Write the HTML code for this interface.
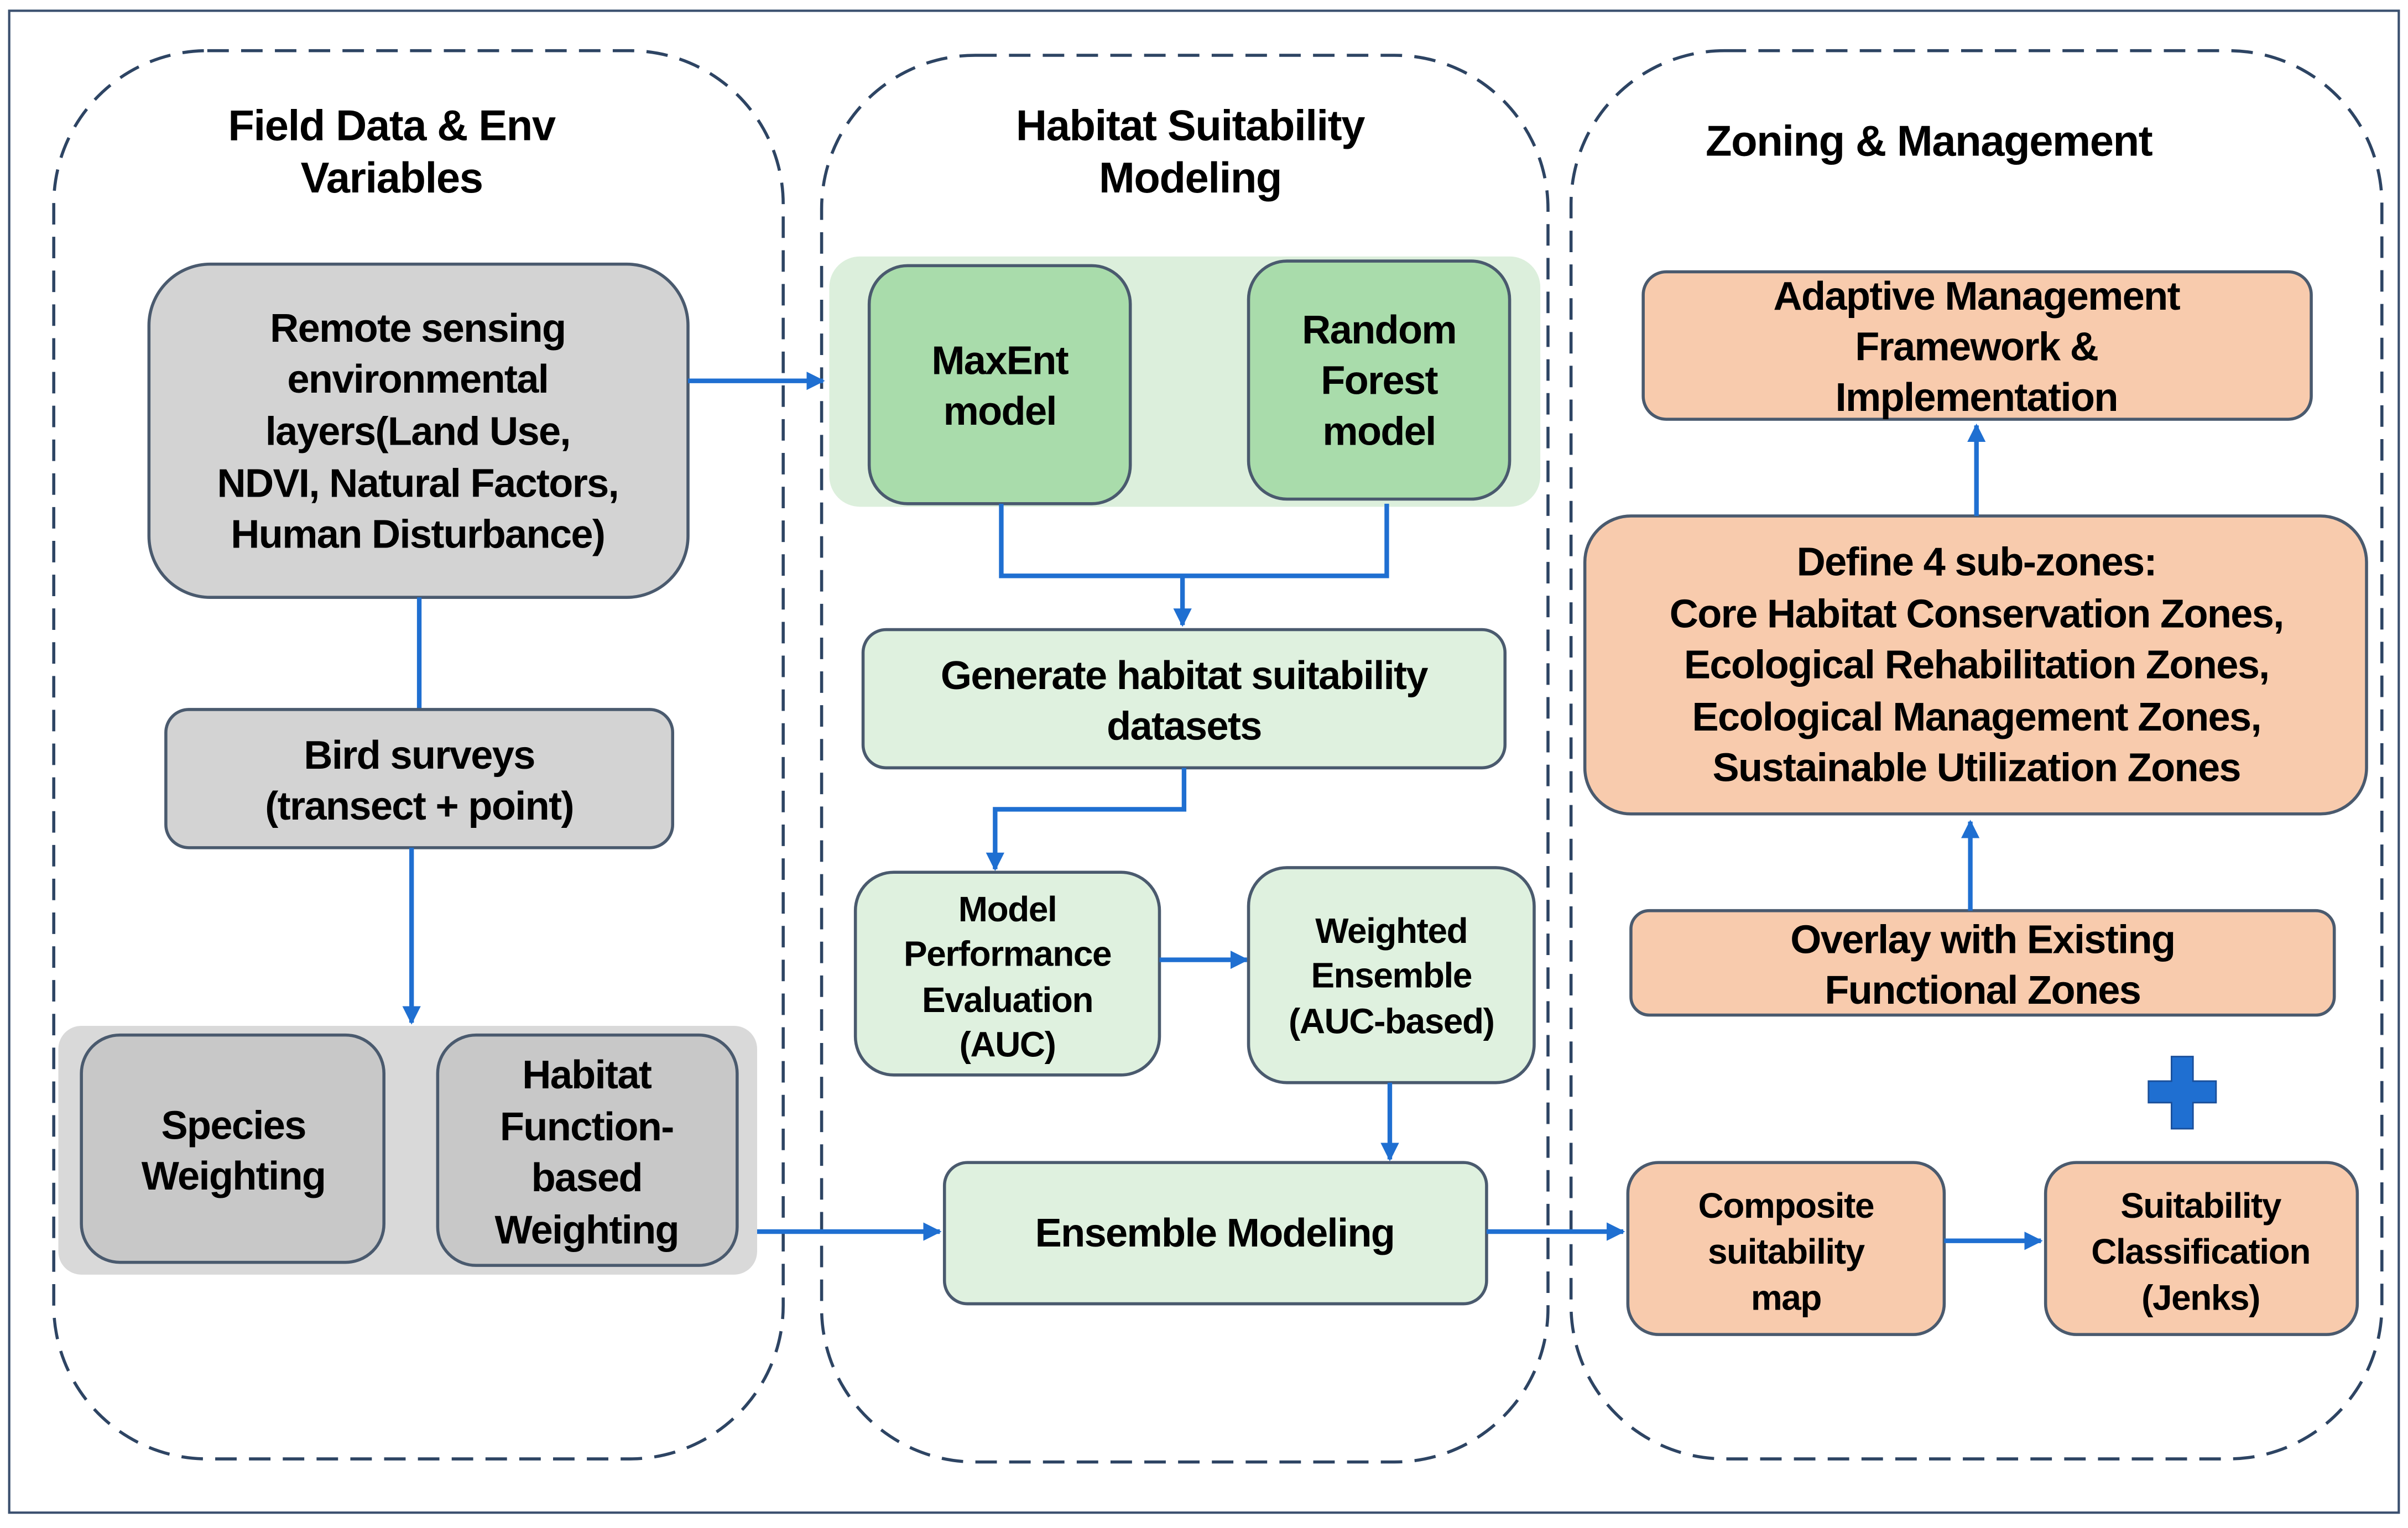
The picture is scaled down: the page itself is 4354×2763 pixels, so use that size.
<!DOCTYPE html>
<html><head><meta charset="utf-8"><style>
html,body{margin:0;padding:0;background:#fff;}
svg{display:block;}
text{font-family:"Liberation Sans",sans-serif;font-weight:bold;fill:#000;text-anchor:middle;dominant-baseline:central;}
.b{font-size:26px;letter-spacing:-0.6px;}
.s{font-size:23px;letter-spacing:-0.5px;}
.t{font-size:28px;letter-spacing:-0.5px;}
.box{stroke:#4a5a6e;stroke-width:2;}
.ln{stroke:#1f6fd1;stroke-width:3;fill:none;}
.dash{fill:none;stroke:#2d4463;stroke-width:2;stroke-dasharray:14 8;}
</style></head><body>
<svg width="4354" height="2763" viewBox="0 0 1568 995" preserveAspectRatio="none">
<defs><marker id="a" viewBox="0 0 10 10" refX="9" refY="5" markerWidth="4" markerHeight="4" orient="auto"><path d="M0,0L10,5L0,10z" fill="#1f6fd1"/></marker></defs>
<rect x="6" y="7" width="1556" height="978" fill="none" stroke="#3a4f6e" stroke-width="1.5"/>
<rect class="dash" x="35" y="33" width="475" height="917" rx="100"/>
<rect class="dash" x="535" y="36" width="473" height="916" rx="100"/>
<rect class="dash" x="1023" y="33" width="528" height="917" rx="100"/>
<text class="t" x="255" y="82">Field Data &amp; Env</text>
<text class="t" x="255" y="116">Variables</text>
<text class="t" x="775" y="82">Habitat Suitability</text>
<text class="t" x="775" y="116">Modeling</text>
<text class="t" x="1256" y="92">Zoning &amp; Management</text>

<!-- Left -->
<rect class="box" x="97" y="172" width="351" height="217" rx="40" fill="#d3d3d3"/>
<text class="b" x="272" y="214">Remote sensing</text>
<text class="b" x="272" y="247">environmental</text>
<text class="b" x="272" y="281">layers(Land Use,</text>
<text class="b" x="272" y="315">NDVI, Natural Factors,</text>
<text class="b" x="272" y="348">Human Disturbance)</text>
<line class="ln" x1="273" y1="389" x2="273" y2="462"/>
<rect class="box" x="108" y="462" width="330" height="90" rx="15" fill="#d3d3d3"/>
<text class="b" x="273" y="492">Bird surveys</text>
<text class="b" x="273" y="525">(transect + point)</text>
<line class="ln" x1="268" y1="552" x2="268" y2="666" marker-end="url(#a)"/>
<rect x="38" y="668" width="455" height="162" rx="15" fill="#d9d9d9"/>
<rect class="box" x="53" y="674" width="197" height="148" rx="25" fill="#c8c8c8"/>
<text class="b" x="152" y="733">Species</text>
<text class="b" x="152" y="766">Weighting</text>
<rect class="box" x="285" y="674" width="195" height="150" rx="25" fill="#c8c8c8"/>
<text class="b" x="382" y="700">Habitat</text>
<text class="b" x="382" y="734">Function-</text>
<text class="b" x="382" y="767">based</text>
<text class="b" x="382" y="801">Weighting</text>
<line class="ln" x1="493" y1="802" x2="612" y2="802" marker-end="url(#a)"/>
<line class="ln" x1="448" y1="248" x2="536" y2="248" marker-end="url(#a)"/>

<!-- Middle -->
<rect x="540" y="167" width="463" height="163" rx="20" fill="#dcefdc"/>
<rect class="box" x="566" y="173" width="170" height="155" rx="25" fill="#a9dcab"/>
<text class="b" x="651" y="235">MaxEnt</text>
<text class="b" x="651" y="268">model</text>
<rect class="box" x="813" y="170" width="170" height="155" rx="25" fill="#a9dcab"/>
<text class="b" x="898" y="215">Random</text>
<text class="b" x="898" y="248">Forest</text>
<text class="b" x="898" y="281">model</text>
<polyline class="ln" points="652,328 652,375 903,375 903,328"/>
<line class="ln" x1="770" y1="375" x2="770" y2="407" marker-end="url(#a)"/>
<rect class="box" x="562" y="410" width="418" height="90" rx="15" fill="#dff1df"/>
<text class="b" x="771" y="440">Generate habitat suitability</text>
<text class="b" x="771" y="473">datasets</text>
<polyline class="ln" points="771,500 771,527 648,527 648,566" marker-end="url(#a)"/>
<rect class="box" x="557" y="568" width="198" height="132" rx="25" fill="#dff1df"/>
<text class="s" x="656" y="592">Model</text>
<text class="s" x="656" y="621">Performance</text>
<text class="s" x="656" y="651">Evaluation</text>
<text class="s" x="656" y="680">(AUC)</text>
<line class="ln" x1="755" y1="625" x2="812" y2="625" marker-end="url(#a)"/>
<rect class="box" x="813" y="565" width="186" height="140" rx="25" fill="#dff1df"/>
<text class="s" x="906" y="606">Weighted</text>
<text class="s" x="906" y="635">Ensemble</text>
<text class="s" x="906" y="665">(AUC-based)</text>
<line class="ln" x1="905" y1="705" x2="905" y2="755" marker-end="url(#a)"/>
<rect class="box" x="615" y="757" width="353" height="92" rx="15" fill="#dff1df"/>
<text class="b" x="791" y="803">Ensemble Modeling</text>
<line class="ln" x1="968" y1="802" x2="1057" y2="802" marker-end="url(#a)"/>

<!-- Right -->
<rect class="box" x="1060" y="757" width="206" height="112" rx="20" fill="#f8cbad"/>
<text class="s" x="1163" y="785">Composite</text>
<text class="s" x="1163" y="815">suitability</text>
<text class="s" x="1163" y="845">map</text>
<line class="ln" x1="1266" y1="808" x2="1329" y2="808" marker-end="url(#a)"/>
<rect class="box" x="1332" y="757" width="203" height="112" rx="20" fill="#f8cbad"/>
<text class="s" x="1433" y="785">Suitability</text>
<text class="s" x="1433" y="815">Classification</text>
<text class="s" x="1433" y="845">(Jenks)</text>
<path d="M1414,688h14v16h15v14h-15v17h-14v-17h-15v-14h15z" fill="#1f6fd1" stroke="#1a4f9a" stroke-width="1"/>
<rect class="box" x="1062" y="593" width="458" height="68" rx="12" fill="#f8cbad"/>
<text class="b" x="1291" y="612">Overlay with Existing</text>
<text class="b" x="1291" y="645">Functional Zones</text>
<line class="ln" x1="1283" y1="593" x2="1283" y2="535" marker-end="url(#a)"/>
<rect class="box" x="1032" y="336" width="509" height="194" rx="30" fill="#f8cbad"/>
<text class="b" x="1287" y="366">Define 4 sub-zones:</text>
<text class="b" x="1287" y="400">Core Habitat Conservation Zones,</text>
<text class="b" x="1287" y="433">Ecological Rehabilitation Zones,</text>
<text class="b" x="1287" y="467">Ecological Management Zones,</text>
<text class="b" x="1287" y="500">Sustainable Utilization Zones</text>
<line class="ln" x1="1287" y1="336" x2="1287" y2="277" marker-end="url(#a)"/>
<rect class="box" x="1070" y="177" width="435" height="96" rx="15" fill="#f8cbad"/>
<text class="b" x="1287" y="193">Adaptive Management</text>
<text class="b" x="1287" y="226">Framework &amp;</text>
<text class="b" x="1287" y="259">Implementation</text>
</svg>
</body></html>
